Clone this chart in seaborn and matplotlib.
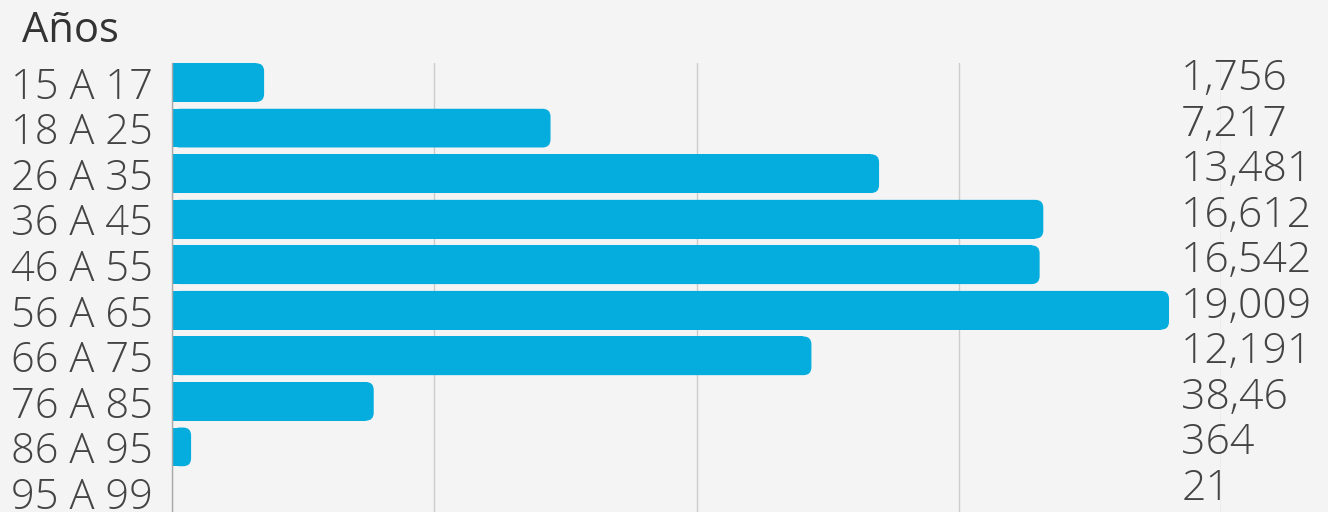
import numpy as np
import pandas as pd
import seaborn as sns
import matplotlib.pyplot as plt
from matplotlib.patches import FancyBboxPatch, Rectangle

ages = ['15 A 17', '18 A 25', '26 A 35', '36 A 45', '46 A 55',
        '56 A 65', '66 A 75', '76 A 85', '86 A 95', '95 A 99']
counts = [1756, 7217, 13481, 16612, 16542, 19009, 12191, 3846, 364, 21]
count_labels = ['1,756', '7,217', '13,481', '16,612', '16,542',
                '19,009', '12,191', '38,46', '364', '21']

df = pd.DataFrame({'edad': ages, 'personas': counts})

sns.set_style('white')
plt.rcParams['font.family'] = ['Open Sans', 'DejaVu Sans']

bg = '#f4f4f4'
blue = '#04addd'
fig = plt.figure(figsize=(13.28, 5.12), dpi=100, facecolor=bg)
ax = fig.add_axes([172/1328, 0, (1221-172)/1328, 1-63/512])
ax.set_facecolor(bg)

sns.barplot(data=df, x='personas', y='edad', orient='h', color=blue,
            width=0.85, ax=ax, saturation=1)

ax.set_xlim(0, 20000)
ax.set_ylim(9.43, -0.43)

# rounded right end on every bar
fig.canvas.draw()
px_x = ax.transData.transform([(1, 0)])[0][0] - ax.transData.transform([(0, 0)])[0][0]
px_y = abs(ax.transData.transform([(0, 1)])[0][1] - ax.transData.transform([(0, 0)])[0][1])
r_px = 8
for p in list(ax.patches):
    x0, y0, w, h = p.get_x(), p.get_y(), p.get_width(), p.get_height()
    p.remove()
    r = min(r_px / px_x, w / 2)
    if w * px_x > 3:
        ax.add_patch(FancyBboxPatch((x0, y0), w, h,
                                    boxstyle=f'round,pad=0,rounding_size={r}',
                                    mutation_aspect=px_x / px_y,
                                    fc=blue, ec='none', zorder=2))
        ax.add_patch(Rectangle((x0, y0), w - r, h, fc=blue, ec='none', zorder=2))
    else:
        ax.add_patch(Rectangle((x0, y0), w, h, fc=blue, ec='none', zorder=2))

ax.set_xticks([0, 5000, 10000, 15000, 20000])
ax.xaxis.grid(True, color='#cccccc', lw=1)
ax.set_axisbelow(True)
ax.tick_params(axis='x', length=0, labelbottom=False)
ax.tick_params(axis='y', length=0, pad=14, labelsize=30, labelcolor='#444444')
for t in ax.get_yticklabels():
    t.set_fontweight('light')
ax.set_xlabel('')
ax.set_ylabel('')
for s in ['top', 'right', 'bottom']:
    ax.spines[s].set_visible(False)
ax.spines['left'].set_color('#aaaaaa')
ax.spines['left'].set_linewidth(1)

for i, lab in enumerate(count_labels):
    ax.text(0.962, i - 0.08, lab, transform=ax.get_yaxis_transform(),
            ha='left', va='center', fontsize=30.8, color='#444444',
            fontweight='light', zorder=3)

fig.text(22/1328, 1-42/512, 'Años', ha='left', va='baseline',
         fontsize=30, color='#333333')

fig.savefig('out.png', dpi=100, facecolor=bg)
